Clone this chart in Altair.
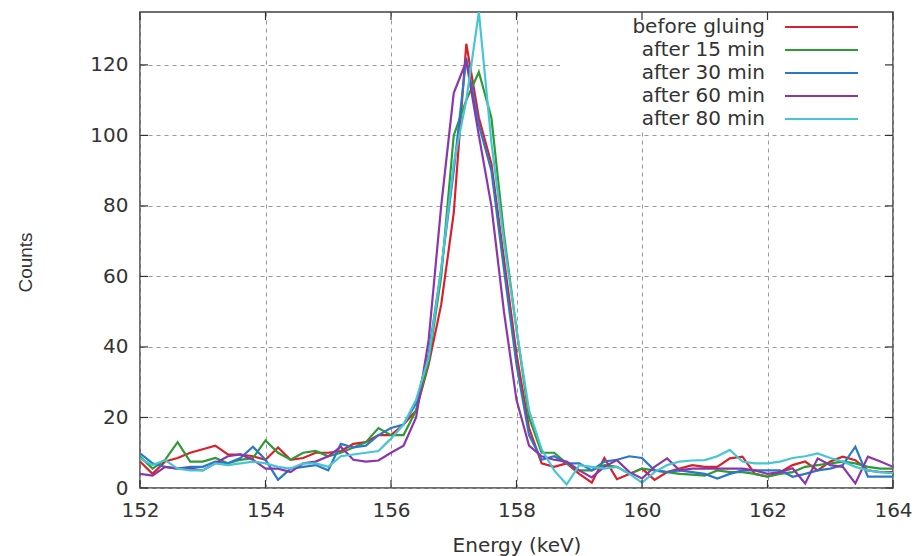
import altair as alt
import pandas as pd

energy = [152.0, 152.2, 152.4, 152.6, 152.8, 153.0, 153.2, 153.4, 153.6, 153.8,
          154.0, 154.2, 154.4, 154.6, 154.8, 155.0, 155.2, 155.4, 155.6, 155.8,
          156.0, 156.2, 156.4, 156.6, 156.8, 157.0, 157.2, 157.4, 157.6, 157.8,
          158.0, 158.2, 158.4, 158.6, 158.8, 159.0, 159.2, 159.4, 159.6, 159.8,
          160.0, 160.2, 160.4, 160.6, 160.8, 161.0, 161.2, 161.4, 161.6, 161.8,
          162.0, 162.2, 162.4, 162.6, 162.8, 163.0, 163.2, 163.4, 163.6, 163.8,
          164.0]

before_gluing = [7.5, 4, 7.5, 8.5, 10, 11, 12, 9.5, 9.5, 9, 8, 11.5, 8, 8.5, 10, 10, 10.5, 12.5, 13, 15,
                 15, 18, 22, 35, 52, 78, 126, 105, 92, 65, 38, 17, 7,
                 6, 7, 4, 1.5, 8.5, 2.5, 4, 5.5, 2.3, 4.5, 5.5, 6.5, 6, 6, 8.4, 8.9, 4, 3.2, 4.5, 6.5,
                 7.5, 5, 7.5, 8.9, 7.9, 5, 4.5, 4.5]
after_15 = [8.9, 5.5, 8, 13, 7.5, 7.5, 8.5, 7, 8, 8.5, 13.5, 10, 8, 10, 10.5, 9, 10, 11.5, 13, 17,
            15, 15, 22, 36, 60, 100, 110, 118, 105, 72, 45, 20, 10,
            10, 7, 5, 5, 6.5, 6, 4, 5.5, 5, 4.5, 4, 3.8, 3.5, 5, 4.5, 4.5, 4, 3.2, 4, 4.5,
            6, 6.5, 7, 7.5, 7, 6, 5.5, 5.5]
after_30 = [9.8, 7, 6, 5.5, 6, 6, 7.5, 7, 8.5, 11.7, 8, 2.3, 5.5, 6, 6.5, 5, 12.5, 11.5, 12, 15,
            17, 18, 24, 38, 62, 90, 122, 103, 90, 62, 35, 15, 8,
            9, 7, 7, 5, 7.5, 8, 9, 8.5, 5, 4.5, 5, 4.5, 4, 2.7, 4, 5, 5, 5, 5, 3.2,
            4, 5, 5.5, 6.5, 11.7, 3.2, 3.2, 3.2]
after_60 = [4, 3.5, 6, 5.5, 5.5, 5, 7, 9, 9.5, 8, 5.5, 5.5, 4.5, 7, 7.5, 9, 11.7, 8, 7.5, 7.8,
            10, 12, 20, 42, 80, 112, 121, 100, 80, 50, 25, 12, 9,
            8, 7.5, 5, 3, 6, 7.9, 4.5, 2.7, 6, 8.4, 5, 5.5, 5.5, 5.5, 5.5, 5.5, 5, 4, 4.5, 5.6,
            1.3, 8.4, 6.5, 6, 1.3, 8.9, 7.5, 6]
after_80 = [8.4, 6.5, 7.9, 5.5, 5, 5, 7, 6.5, 7, 7.5, 7, 6, 5.5, 7, 7, 6, 9, 9.5, 10, 10.5,
            14, 18, 25, 37, 62, 92, 110, 135, 98, 70, 45, 22, 11,
            5, 1, 6.5, 6, 5.5, 6, 4, 1.5, 4.5, 6.5, 7.5, 7.8, 7.9, 9, 10.8, 7.5, 7, 7, 7.5, 8.5,
            9, 9.8, 8.5, 7.5, 6, 5, 4.5, 4.2]

series_names = ["before gluing", "after 15 min", "after 30 min", "after 60 min", "after 80 min"]
series_values = [before_gluing, after_15, after_30, after_60, after_80]
colors = ["#d9202b", "#2e9a35", "#2a78c8", "#8b36aa", "#46c6d2"]

x_ticks = [152, 154, 156, 158, 160, 162, 164]
y_ticks = [0, 20, 40, 60, 80, 100, 120]

rows = []
for name, vals in zip(series_names, series_values):
    for e, c in zip(energy, vals):
        rows.append({"energy": e, "counts": c, "series": name})
df = pd.DataFrame(rows)

W, H = 753, 476
FONT = "DejaVu Sans"

xscale = alt.Scale(domain=[152, 164], nice=False, zero=False)
yscale = alt.Scale(domain=[0, 135], nice=False)

lines = alt.Chart(df).mark_line(strokeWidth=2.2, clip=True).encode(
    x=alt.X("energy:Q", scale=xscale,
            axis=alt.Axis(values=x_ticks, title="Energy (keV)", format="d", ticks=False,
                          labelPadding=12, labelFlush=False, titleY=57, titleBaseline="middle",
                          grid=True)),
    y=alt.Y("counts:Q", scale=yscale,
            axis=alt.Axis(values=y_ticks, title="Counts", ticks=False, labelPadding=12,
                          labelFlush=False,
                          titleX=-115, titleY=250, titleBaseline="middle",
                          titleAngle=270, titleFont="Liberation Sans", titleFontSize=19,
                          grid=True)),
    color=alt.Color("series:N", scale=alt.Scale(domain=series_names, range=colors), legend=None),
    detail="series:N",
)

# legend background (opaque key box)
key_bg = alt.Chart(pd.DataFrame({"k": [0]})).mark_rect(color="white").encode(
    x=alt.value(420), x2=alt.value(W - 1), y=alt.value(1), y2=alt.value(120)
)

leg_df = pd.DataFrame({"series": series_names})
leg_y = alt.Y("series:N", scale=alt.Scale(type="point", domain=series_names, range=[15, 107], padding=0),
              axis=None)
leg_rules = alt.Chart(leg_df).mark_rule(strokeWidth=2.2).encode(
    x=alt.value(645), x2=alt.value(718), y=leg_y,
    color=alt.Color("series:N", scale=alt.Scale(domain=series_names, range=colors), legend=None),
)
leg_text = alt.Chart(leg_df).mark_text(align="right", baseline="middle", font=FONT, fontSize=20,
                                       color="#333333").encode(
    x=alt.value(625), y=leg_y, text="series:N"
)

tick_x_df = pd.DataFrame({"t": x_ticks})
tick_y_df = pd.DataFrame({"t": y_ticks})
tx_bot = alt.Chart(tick_x_df).mark_rule(color="#333333", strokeWidth=1.2).encode(
    x=alt.X("t:Q", scale=xscale), y=alt.value(H), y2=alt.value(H - 8))
tx_top = alt.Chart(tick_x_df).mark_rule(color="#333333", strokeWidth=1.2).encode(
    x=alt.X("t:Q", scale=xscale), y=alt.value(0), y2=alt.value(8))
ty_left = alt.Chart(tick_y_df).mark_rule(color="#333333", strokeWidth=1.2).encode(
    y=alt.Y("t:Q", scale=yscale, axis=None), x=alt.value(0), x2=alt.value(8))
ty_right = alt.Chart(tick_y_df).mark_rule(color="#333333", strokeWidth=1.2).encode(
    y=alt.Y("t:Q", scale=yscale, axis=None), x=alt.value(W), x2=alt.value(W - 8))

chart = alt.layer(
    lines, key_bg, tx_bot, tx_top, ty_left, ty_right, leg_rules, leg_text
).resolve_scale(y="independent").properties(
    width=W, height=H,
    autosize=alt.AutoSizeParams(type="none"),
    padding={"left": 140, "top": 12, "right": 23, "bottom": 68},
    background="white",
).configure_view(
    stroke="#404040", strokeWidth=1.5
).configure_axis(
    domain=False,
    gridColor="#9a9a9a", gridDash=[4, 4], gridWidth=1,
    labelFont=FONT, labelFontSize=20, labelColor="#333333",
    titleFont=FONT, titleFontSize=20, titleFontWeight="normal", titleColor="#333333",
)

chart.save("out.html", embed_options={"renderer": "svg", "actions": False})
